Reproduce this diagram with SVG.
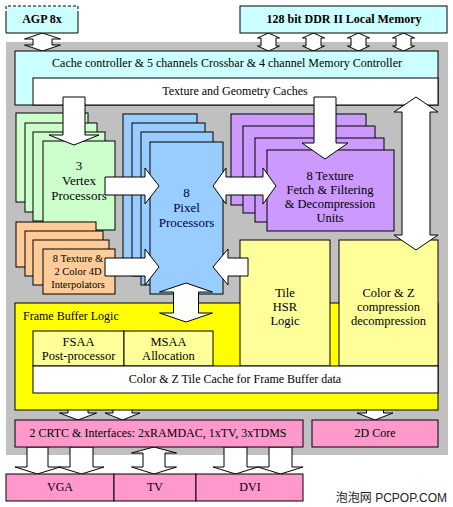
<svg xmlns="http://www.w3.org/2000/svg" width="453" height="507" viewBox="0 0 453 507">
<style>
.b{stroke:#000;stroke-width:1}
text.t{font-family:'Liberation Serif','DejaVu Serif',serif;font-size:12px;fill:#000;text-anchor:middle}
text.tb{font-weight:bold}
text.l{text-anchor:start}
.a{fill:#fff;stroke:#000;stroke-width:1;stroke-linejoin:miter}
.cy{fill:#ccffff}.gr{fill:#ccffcc}.or{fill:#ffcc99}.bl{fill:#99ccff}.pu{fill:#cc99ff}.ly{fill:#ffff99}.ye{fill:#ffff00}.pk{fill:#ff99cc}.wh{fill:#fff}
</style>
<rect width="453" height="507" fill="#fff"/>
<rect id="chip" x="6" y="42" width="442" height="413" fill="#c0c0c0"/>

<g id="connectors-back">
<polygon class="a" points="42.5,33 60.5,39 52,39 52,45 60.5,45 42.5,51 24.5,45 33,45 33,39 24.5,39"/>
<polygon class="a" points="268.5,33 279.5,38 276,38 276,46 279.5,46 268.5,51 257.5,46 261,46 261,38 257.5,38"/>
<polygon class="a" points="313.5,33 324.5,38 321,38 321,46 324.5,46 313.5,51 302.5,46 306,46 306,38 302.5,38"/>
<polygon class="a" points="358.5,33 369.5,38 366,38 366,46 369.5,46 358.5,51 347.5,46 351,46 351,38 347.5,38"/>
<polygon class="a" points="403.5,33 414.5,38 411,38 411,46 414.5,46 403.5,51 392.5,46 396,46 396,38 392.5,38"/>
<polygon class="a" points="78,393 96.5,400 88,400 88,413 96.5,413 78,420 59.5,413 68,413 68,400 59.5,400"/>
<polygon class="a" points="122.5,393 140,400 132,400 132,413 140,413 122.5,420 105,413 113,413 113,400 105,400"/>
<polygon class="a" points="375,393 393,400 383.5,400 383.5,413 393,413 375,420 357,413 366.5,413 366.5,400 357,400"/>
<polygon class="a" points="27,447 48,447 48,467 60,467 37.5,474 15,467 27,467"/>
<polygon class="a" points="70,447 93,447 93,467 104,467 81.5,474 59,467 70,467"/>
<polygon class="a" points="154,447 176.5,453 165,453 165,467 176.5,467 154,474 131.5,467 143,467 143,453 131.5,453"/>
<polygon class="a" points="224,447 247,447 247,467 258,467 235.5,474 213,467 224,467"/>
<polygon class="a" points="269,447 292,447 292,467 303,467 280.5,474 258,467 269,467"/>
</g>

<g id="agp">
<rect x="6" y="6" width="72" height="27" class="cy"/>
<path d="M6,14 V33 H78 V14" fill="none" stroke="#000"/>
<path d="M6,14 V6 H78 V14" fill="none" stroke="#000" stroke-dasharray="3,2"/>
<text class="t tb" x="42" y="23">AGP 8x</text>
</g>
<g id="ddr">
<rect x="240" y="6" width="207" height="27" class="cy b"/>
<text class="t tb" x="344" y="23">128 bit DDR II Local Memory</text>
</g>

<g id="cache-controller">
<rect x="15" y="51" width="423" height="54" class="cy b"/>
<text class="t" x="227" y="67">Cache controller &amp; 5 channels Crossbar &amp; 4 channel Memory Controller</text>
</g>
<g id="texture-caches">
<rect x="33" y="78" width="405" height="27" class="wh b"/>
<text class="t" x="235" y="95">Texture and Geometry Caches</text>
</g>

<g id="vertex">
<rect x="16" y="113" width="72" height="89" class="gr b"/>
<rect x="25" y="123" width="72" height="89" class="gr b"/>
<rect x="33" y="132" width="72" height="89" class="gr b"/>
<rect x="43" y="141" width="72" height="89" class="gr b"/>
<text class="t" x="79" y="170" style="font-size:13px">3</text>
<text class="t" x="79" y="185" style="font-size:13px">Vertex</text>
<text class="t" x="79" y="200" style="font-size:13px">Processors</text>
</g>
<g id="interpolators">
<rect x="16" y="222" width="80" height="45" class="or b"/>
<rect x="25" y="231" width="78" height="45" class="or b"/>
<rect x="33" y="240" width="76" height="45" class="or b"/>
<rect x="43" y="249" width="72" height="45" class="or b"/>
<text class="t" x="78" y="262" style="font-size:10.5px">8 Texture &amp;</text>
<text class="t" x="78" y="275" style="font-size:10.5px">2 Color 4D</text>
<text class="t" x="78" y="288" style="font-size:10.5px">Interpolators</text>
</g>
<g id="pixel">
<rect x="123" y="114" width="74" height="152" class="bl b"/>
<rect x="132" y="123" width="73" height="153" class="bl b"/>
<rect x="141" y="132" width="72" height="153" class="bl b"/>
<rect x="150" y="142" width="73" height="152" class="bl b"/>
<text class="t" x="186.5" y="197" style="font-size:13px;fill:#000040">8</text>
<text class="t" x="186.5" y="212" style="font-size:13px;fill:#000040">Pixel</text>
<text class="t" x="186.5" y="227" style="font-size:13px;fill:#000040">Processors</text>
</g>
<g id="texture-units">
<rect x="231" y="114" width="135" height="91" class="pu b"/>
<rect x="243" y="126" width="132" height="87" class="pu b"/>
<rect x="255" y="138" width="129" height="84" class="pu b"/>
<rect x="267" y="150" width="127" height="81" class="pu b"/>
<text class="t" x="330" y="180" style="font-size:12.5px">8 Texture</text>
<text class="t" x="330" y="194" style="font-size:12.5px">Fetch &amp; Filtering</text>
<text class="t" x="330" y="208" style="font-size:12.5px">&amp; Decompression</text>
<text class="t" x="330" y="222" style="font-size:12.5px">Units</text>
</g>

<g id="frame-buffer-logic">
<rect x="15" y="303" width="423" height="107" class="ye b"/>
<text class="t l" x="23" y="320">Frame Buffer Logic</text>
</g>
<g id="tile-hsr">
<rect x="240" y="240" width="90" height="126" class="ly b"/>
<text class="t" x="285" y="297" style="font-size:12.5px">Tile</text>
<text class="t" x="285" y="311" style="font-size:12.5px">HSR</text>
<text class="t" x="285" y="325" style="font-size:12.5px">Logic</text>
</g>
<g id="color-z">
<rect x="339" y="240" width="99" height="126" class="ly b"/>
<text class="t" x="388.5" y="297" style="font-size:12.5px">Color &amp; Z</text>
<text class="t" x="388.5" y="311" style="font-size:12.5px">compression</text>
<text class="t" x="388.5" y="325" style="font-size:12.5px">decompression</text>
</g>
<g id="fsaa">
<rect x="33" y="331" width="91" height="35" class="ly b"/>
<text class="t" x="78.5" y="346" style="font-size:12.5px">FSAA</text>
<text class="t" x="78.5" y="360" style="font-size:12.5px">Post-processor</text>
</g>
<g id="msaa">
<rect x="124" y="331" width="89" height="35" class="ly b"/>
<text class="t" x="168.5" y="346" style="font-size:12.5px">MSAA</text>
<text class="t" x="168.5" y="360" style="font-size:12.5px">Allocation</text>
</g>
<g id="tile-cache">
<rect x="33" y="366" width="405" height="27" class="wh b"/>
<text class="t" x="235" y="383">Color &amp; Z Tile Cache for Frame Buffer data</text>
</g>

<g id="crtc">
<rect x="15" y="420" width="288" height="27" class="pk b"/>
<text class="t" x="158" y="437">2 CRTC &amp; Interfaces: 2xRAMDAC, 1xTV, 3xTDMS</text>
</g>
<g id="core2d">
<rect x="312" y="420" width="126" height="27" class="pk b"/>
<text class="t" x="375" y="437">2D Core</text>
</g>
<g id="vga">
<rect x="6" y="474" width="108" height="27" class="pk b"/>
<text class="t" x="60" y="491">VGA</text>
</g>
<g id="tv">
<rect x="114" y="474" width="82" height="27" class="pk b"/>
<text class="t" x="155" y="491">TV</text>
</g>
<g id="dvi">
<rect x="196" y="474" width="107" height="27" class="pk b"/>
<text class="t" x="250" y="491">DVI</text>
</g>

<g id="connectors">
<polygon class="a" points="63,97 85,97 85,135 99,135 74,145 49,135 63,135"/>
<polygon class="a" points="314,97 336,97 336,143 348,143 325,159 302,143 314,143"/>
<polygon class="a" points="416,97 438,112 430,112 430,235 438,235 416,250 394,235 402,235 402,112 394,112"/>
<polygon class="a" points="105,177 145,177 145,168 159,186 145,204 145,195 105,195"/>
<polygon class="a" points="213,186 226,168 226,177 263,177 263,168 276,186 263,204 263,195 226,195 226,204"/>
<polygon class="a" points="105,258 145,258 145,249 159,267 145,285 145,276 105,276"/>
<polygon class="a" points="248,258 228,258 228,249 213,267 228,285 228,276 248,276"/>
<polygon class="a" points="186,283 212.5,292 198.5,292 198.5,313 212.5,313 186,322 159.5,313 173.5,313 173.5,292 159.5,292"/>
</g>

<text x="447" y="502" text-anchor="end" style="font-family:'Liberation Sans','Noto Sans CJK SC',sans-serif;font-size:12px;fill:#222">泡泡网 PCPOP.COM</text>
</svg>
